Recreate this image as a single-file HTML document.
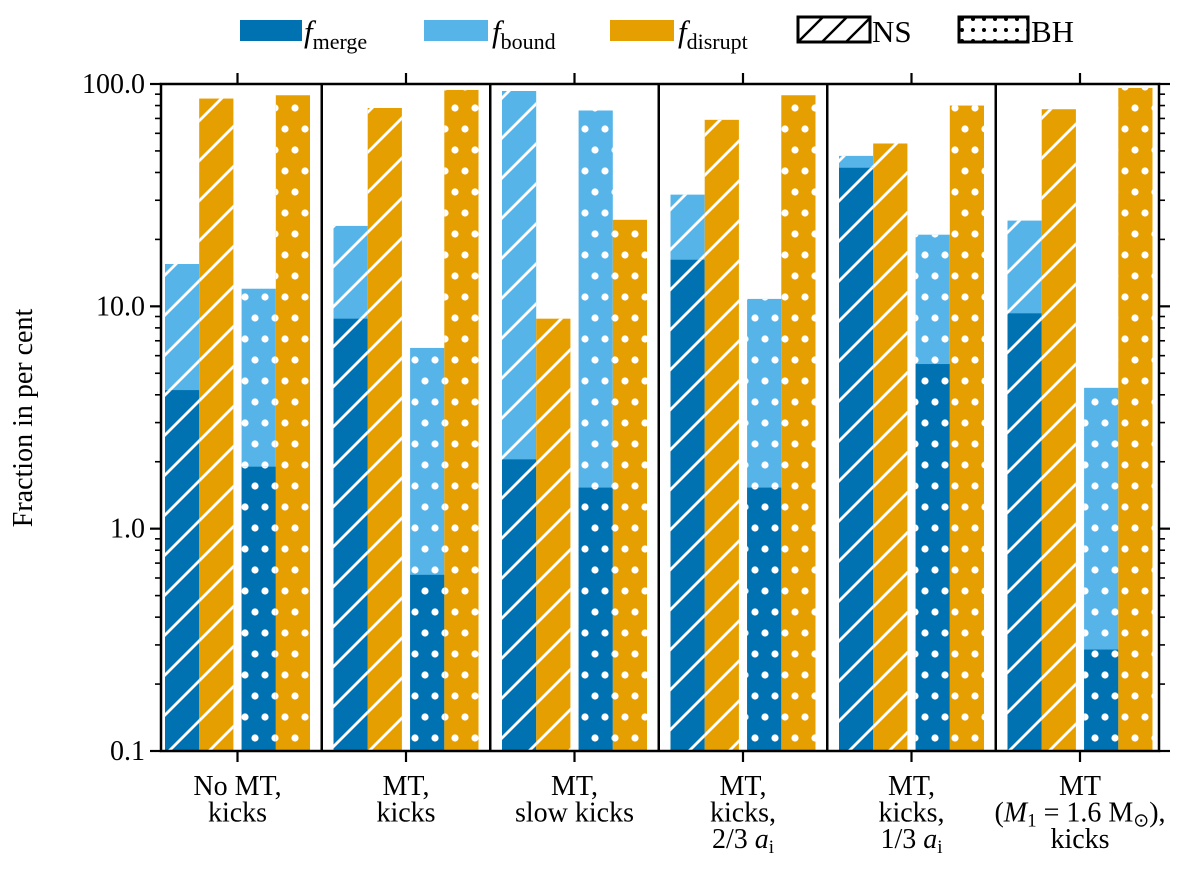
<!DOCTYPE html>
<html><head><meta charset="utf-8"><style>
body{margin:0;background:#fff}
svg{display:block;font-family:"Liberation Serif",serif}
</style></head><body>
<svg id="chart" width="1200" height="889" viewBox="0 0 1200 889">
<defs>
<pattern id="hatch" patternUnits="userSpaceOnUse" width="40" height="40">
<path d="M-10,10 L10,-10 M0,40 L40,0 M30,50 L50,30" stroke="#fff" stroke-width="2.8"/>
</pattern>
<pattern id="dots" patternUnits="userSpaceOnUse" width="20" height="42" x="5" y="3">
<circle cx="0" cy="0" r="3.6" fill="#fff"/><circle cx="20" cy="0" r="3.6" fill="#fff"/>
<circle cx="0" cy="42" r="3.6" fill="#fff"/><circle cx="20" cy="42" r="3.6" fill="#fff"/>
<circle cx="10" cy="21" r="3.6" fill="#fff"/>
</pattern>
<pattern id="hatchK" patternUnits="userSpaceOnUse" width="24" height="24">
<path d="M-6,6 L6,-6 M0,24 L24,0 M18,30 L30,18" stroke="#000" stroke-width="2.4"/>
</pattern>
<pattern id="dotsK" patternUnits="userSpaceOnUse" width="11" height="11" x="3" y="6">
<circle cx="2" cy="2" r="2" fill="#000"/>
</pattern>
</defs>
<g id="bars"></g>
<g id="axes"></g>
<g id="legend">
<rect x="240" y="20" width="62" height="21" fill="#0072b2"/>
<text x="304" y="42" font-size="31"><tspan font-style="italic">f</tspan><tspan font-size="22" dy="7">merge</tspan></text>
<rect x="424" y="20" width="64" height="21" fill="#56b4e9"/>
<text x="492" y="42" font-size="31"><tspan font-style="italic">f</tspan><tspan font-size="22" dy="7">bound</tspan></text>
<rect x="610" y="20" width="64" height="21" fill="#e69f00"/>
<text x="678" y="42" font-size="31"><tspan font-style="italic">f</tspan><tspan font-size="22" dy="7">disrupt</tspan></text>
<rect x="798" y="17" width="72" height="25" fill="url(#hatchK)" stroke="#000" stroke-width="3"/>
<text x="872" y="42" font-size="31">NS</text>
<rect x="959" y="17" width="69" height="25" fill="url(#dotsK)" stroke="#000" stroke-width="3"/>
<text x="1031" y="42" font-size="31">BH</text>
</g>
</svg>
<script>
const categories = ["No MT, kicks","MT, kicks","MT, slow kicks","MT, kicks, 2/3 a_i","MT, kicks, 1/3 a_i","MT (M1=1.6 Msun), kicks"];
const nsMerge   = [4.2, 8.8, 2.05, 16.2, 42, 9.3];
const nsBound   = [15.5, 23, 93, 31.8, 47.5, 24.3];
const nsDisrupt = [86, 78, 8.8, 69, 54, 77];
const bhMerge   = [1.9, 0.62, 1.53, 1.53, 5.5, 0.286];
const bhBound   = [12, 6.5, 76, 10.8, 21, 4.3];
const bhDisrupt = [89, 94, 24.5, 89, 80, 96];
const yTicks = [0.1, 1, 10, 100];
const yTickLabels = ["0.1","1.0","10.0","100.0"];

const NS="http://www.w3.org/2000/svg";
const L=161,R=1159,T=84,B=751;
const y=v=>B-(Math.log10(v)-Math.log10(0.1))/3*(B-T);
const pitch=168.5, x0=237.5, bw=34.2;
const gx=i=>x0+i*pitch;
function mk(tag,attrs,parent){const e=document.createElementNS(NS,tag);for(const k in attrs)e.setAttribute(k,attrs[k]);parent.appendChild(e);return e;}
const bars=document.getElementById('bars'), axes=document.getElementById('axes');
function bar(x,v,color,pat,name){
  const top=y(v);
  const r=mk('rect',{x:x,y:top,width:bw,height:B-top,fill:color},bars);
  
  
  const p=mk('rect',{x:x,y:top,width:bw,height:B-top,fill:pat},bars);
  
  
}
categories.forEach((c,i)=>{
  const cx=gx(i);
  const xs=[cx-72.5,cx-72.5+bw,cx+72.5-2*bw,cx+72.5-bw];
  bar(xs[0],nsBound[i],'#56b4e9','url(#hatch)','bar-ns-bound-'+i);
  bar(xs[0],nsMerge[i],'#0072b2','url(#hatch)','bar-ns-merge-'+i);
  bar(xs[1],nsDisrupt[i],'#e69f00','url(#hatch)','bar-ns-disrupt-'+i);
  bar(xs[2],bhBound[i],'#56b4e9','url(#dots)','bar-bh-bound-'+i);
  bar(xs[2],bhMerge[i],'#0072b2','url(#dots)','bar-bh-merge-'+i);
  bar(xs[3],bhDisrupt[i],'#e69f00','url(#dots)','bar-bh-disrupt-'+i);
  if(i>0){const d=mk('line',{x1:cx-pitch/2,x2:cx-pitch/2,y1:T,y2:B,stroke:'#000','stroke-width':2.5},axes);
    
    }
  const tb=mk('line',{x1:cx,x2:cx,y1:B,y2:B+11,stroke:'#000','stroke-width':2.2},axes);
  
  
  const tt=mk('line',{x1:cx,x2:cx,y1:T,y2:T-11,stroke:'#000','stroke-width':2.2},axes);
  
  
});
const ai="2/3 <tspan font-style='italic'>a</tspan><tspan font-size='19' dy='5'>i</tspan>";
const labelLines=[["No MT,","kicks"],["MT,","kicks"],["MT,","slow kicks"],["MT,","kicks,",ai],["MT,","kicks,",ai.replace('2/3','1/3')],["MT","(<tspan font-style='italic'>M</tspan><tspan font-size='19' dy='5'>1</tspan><tspan dy='-5'> = 1.6 M</tspan><tspan font-size='19' dy='5'>⊙</tspan><tspan dy='-5'>),</tspan>","kicks"]];
labelLines.forEach((ls,i)=>{
  ls.forEach((s,j)=>{
    const t=mk('text',{x:gx(i),y:795+j*26.5,'font-size':28,'text-anchor':'middle'},axes);
    t.innerHTML=s;
    
    
  });
});
yTicks.forEach((v,k)=>{
  const yy=y(v);
  [[L,L-11],[R,R+11]].forEach(([a,b])=>{
    const tk=mk('line',{x1:a,x2:b,y1:yy,y2:yy,stroke:'#000','stroke-width':2.2},axes);
    
    });
  const t=mk('text',{x:L-16,y:yy+9,'font-size':28,'text-anchor':'end'},axes);
  t.textContent=yTickLabels[k];
  
  
  if(k<3)for(let m=2;m<=9;m++){const yy2=y(v*m);
    [[L,L-6],[R,R+6]].forEach(([a,b])=>{
      const tk=mk('line',{x1:a,x2:b,y1:yy2,y2:yy2,stroke:'#000','stroke-width':1.6},axes);
      
      });}
});
const fr=mk('rect',{x:L,y:T,width:R-L,height:B-T,fill:'none',stroke:'#000','stroke-width':2.5},axes);


const yt=mk('text',{x:0,y:0,'font-size':28,'text-anchor':'middle',transform:'translate(32,418) rotate(-90)'},axes);
yt.textContent='Fraction in per cent';


</script>
</body></html>
